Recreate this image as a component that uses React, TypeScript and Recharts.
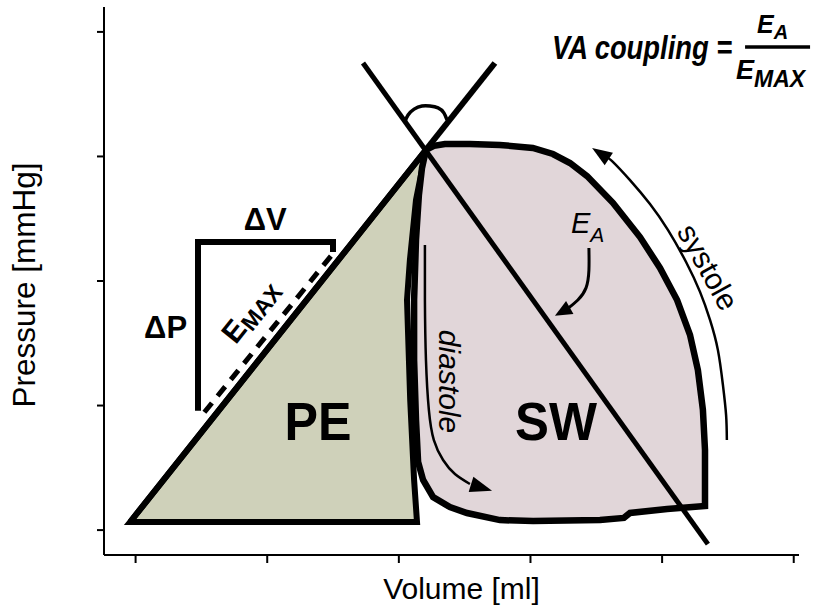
import React from "react";
import { ComposedChart, Curve, Scatter, XAxis, YAxis } from "recharts";

type Pt = { x: number; y: number };

// unlabelled axis ticks (volume in ml, pressure in mmHg)
const volumeTicks = [0, 50, 100, 150, 200, 250];
const pressureTicks = [0, 40, 80, 120, 160];

// end-systolic pressure-volume relation (E_MAX)
const espvrLine: Pt[] = [
  { x: -2.1, y: 2.6 },
  { x: 136.5, y: 150 },
];

// effective arterial elastance (E_A)
const eaLine: Pt[] = [
  { x: 86.4, y: 150 },
  { x: 217.4, y: -4.5 },
];

// potential energy area
const peArea: Pt[] = [
  { x: -2.1, y: 2.6 },
  { x: 110.3, y: 122.1 },
  { x: 106.5, y: 106.0 },
  { x: 104.2, y: 86.7 },
  { x: 103.1, y: 73.9 },
  { x: 104.3, y: 41.8 },
  { x: 105.8, y: 16.1 },
  { x: 106.9, y: 2.6 },
];

// pressure-volume loop (stroke work)
const pvLoop: Pt[] = [
  { x: 110.3, y: 122.1 },
  { x: 113.3, y: 123.4 },
  { x: 117.5, y: 124.0 },
  { x: 127.0, y: 124.0 },
  { x: 138.4, y: 123.7 },
  { x: 150.9, y: 122.7 },
  { x: 158.5, y: 120.8 },
  { x: 165.0, y: 117.9 },
  { x: 171.5, y: 113.7 },
  { x: 181.3, y: 105.1 },
  { x: 191.6, y: 94.1 },
  { x: 199.2, y: 84.2 },
  { x: 205.7, y: 73.9 },
  { x: 210.6, y: 62.7 },
  { x: 213.6, y: 51.4 },
  { x: 215.5, y: 38.6 },
  { x: 216.3, y: 25.7 },
  { x: 216.3, y: 7.7 },
  { x: 201.9, y: 6.8 },
  { x: 187.8, y: 5.5 },
  { x: 185.5, y: 3.9 },
  { x: 176.4, y: 3.2 },
  { x: 151.0, y: 2.9 },
  { x: 138.4, y: 3.2 },
  { x: 125.9, y: 5.5 },
  { x: 119.4, y: 7.4 },
  { x: 113.0, y: 10.6 },
  { x: 109.2, y: 16.1 },
  { x: 107.3, y: 21.9 },
  { x: 106.5, y: 35.4 },
  { x: 105.8, y: 54.6 },
  { x: 105.8, y: 73.9 },
  { x: 106.5, y: 93.2 },
  { x: 107.6, y: 107.6 },
  { x: 108.8, y: 116.3 },
];

// angle marker between the two lines
const angleArc: Pt[] = [
  { x: 102.3, y: 131.1 },
  { x: 103.5, y: 133.3 },
  { x: 105.8, y: 135.2 },
  { x: 108.8, y: 136.2 },
  { x: 111.8, y: 136.2 },
  { x: 114.9, y: 135.6 },
  { x: 117.1, y: 134.0 },
  { x: 118.3, y: 131.7 },
];

// ΔV / ΔP bracket and the dashed E_MAX slope
const slopeBracket: Pt[] = [
  { x: 75.0, y: 89.3 },
  { x: 75.0, y: 92.5 },
  { x: 23.7, y: 92.5 },
  { x: 23.7, y: 38.3 },
];
const emaxDashed: Pt[] = [
  { x: 74.2, y: 88.0 },
  { x: 25.6, y: 37.3 },
];

// thin arrows
const diastoleArrow: Pt[] = [
  { x: 109.9, y: 91.6 },
  { x: 109.9, y: 73.9 },
  { x: 110.3, y: 54.6 },
  { x: 111.4, y: 38.6 },
  { x: 113.3, y: 28.9 },
  { x: 116.8, y: 22.5 },
  { x: 121.3, y: 18.0 },
  { x: 127.0, y: 14.8 },
  { x: 135.4, y: 12.6 },
];
const systoleArrow: Pt[] = [
  { x: 224.6, y: 28.9 },
  { x: 224.3, y: 37.0 },
  { x: 223.1, y: 46.6 },
  { x: 221.2, y: 57.8 },
  { x: 218.2, y: 67.5 },
  { x: 214.4, y: 76.5 },
  { x: 209.1, y: 86.1 },
  { x: 202.2, y: 96.4 },
  { x: 195.4, y: 104.7 },
  { x: 187.8, y: 112.4 },
  { x: 181.0, y: 118.5 },
  { x: 173.4, y: 122.7 },
];
const eaArrow: Pt[] = [
  { x: 172.2, y: 90.6 },
  { x: 172.2, y: 83.5 },
  { x: 171.1, y: 77.8 },
  { x: 168.0, y: 73.9 },
  { x: 163.9, y: 71.0 },
  { x: 159.3, y: 68.8 },
];

// text anchors
const labelAnchors = [
  { id: "PE", x: 69.3, y: 28.9 },
  { id: "SW", x: 159.7, y: 28.9 },
  { id: "dV", x: 49.2, y: 96.4 },
  { id: "dP", x: 11.4, y: 61.7 },
  { id: "Emax", x: 38.0, y: 59.4 },
  { id: "Ea", x: 165.4, y: 95.4 },
  { id: "diastole", x: 115.2, y: 47.7 },
  { id: "systole", x: 214.0, y: 82.9 },
  { id: "formula", x: 158.2, y: 151.3 },
];

const SANS = '"Liberation Sans", Arial, Helvetica, sans-serif';
const PE_FILL = "#cfd1ba";
const LOOP_FILL = "#e1d6d9";

const noDot = () => <g />;
const noTickLabel = () => <g />;

const toPath = (pts: Pt[], closed = false) =>
  pts.map((p, i) => `${i ? "L" : "M"}${p.x.toFixed(1)},${p.y.toFixed(1)}`).join(" ") +
  (closed ? " Z" : "");

const closedShape = (fill: string, width: number) => (props: any) => (
  <path d={toPath(props.points, true)} fill={fill} stroke="#000" strokeWidth={width} />
);

const straight = (width: number, dash?: string) => (props: any) => (
  <path
    d={toPath(props.points)}
    fill="none"
    stroke="#000"
    strokeWidth={width}
    strokeDasharray={dash}
    strokeLinejoin="miter"
  />
);

const smooth = (width: number) => (props: any) => (
  <Curve points={props.points} type="natural" fill="none" stroke="#000" strokeWidth={width} />
);

const arrow = (width: number, headLen: number, headW: number) => (props: any) => {
  const pts: Pt[] = props.points;
  const n = pts.length;
  const tip = pts[n - 1];
  const prev = pts[n - 2];
  const dx = tip.x - prev.x;
  const dy = tip.y - prev.y;
  const len = Math.hypot(dx, dy);
  const ux = dx / len;
  const uy = dy / len;
  const bx = tip.x - ux * headLen;
  const by = tip.y - uy * headLen;
  const shaft = pts.slice(0, n - 1);
  if (len - headLen > 3) shaft.push({ x: bx + ux * 2, y: by + uy * 2 });
  const head = `M${tip.x},${tip.y} L${bx - (uy * headW) / 2},${by + (ux * headW) / 2} L${
    bx + (uy * headW) / 2
  },${by - (ux * headW) / 2} Z`;
  return (
    <g>
      <Curve points={shaft} type="natural" fill="none" stroke="#000" strokeWidth={width} />
      <path d={head} fill="#000" />
    </g>
  );
};

const renderLabel = (props: any) => {
  const { cx, cy, payload } = props;
  const base = { fontFamily: SANS, fill: "#000" };
  switch (payload.id) {
    case "PE":
    case "SW":
      return (
        <text
          x={cx}
          y={cy}
          {...base}
          fontSize={54}
          fontWeight="bold"
          textAnchor="middle"
          textLength={payload.id === "PE" ? 67 : 82}
          lengthAdjust="spacingAndGlyphs"
        >
          {payload.id}
        </text>
      );
    case "dV":
      return (
        <text x={cx} y={cy} {...base} fontSize={31} fontWeight="bold" textAnchor="middle">
          ΔV
        </text>
      );
    case "dP":
      return (
        <text x={cx} y={cy} {...base} fontSize={31} fontWeight="bold" textAnchor="middle">
          ΔP
        </text>
      );
    case "Emax":
      return (
        <text x={cx} y={cy} {...base} fontWeight="bold" transform={`rotate(-51.5 ${cx} ${cy})`}>
          <tspan fontSize={30}>E</tspan>
          <tspan fontSize={23} dy={5}>
            MAX
          </tspan>
        </text>
      );
    case "Ea":
      return (
        <text x={cx} y={cy} {...base} fontStyle="italic" fontSize={29}>
          E
          <tspan fontSize={21} dy={9}>
            A
          </tspan>
        </text>
      );
    case "diastole":
      return (
        <text
          x={cx}
          y={cy}
          {...base}
          fontStyle="italic"
          fontSize={30}
          textAnchor="middle"
          transform={`rotate(90 ${cx} ${cy})`}
        >
          diastole
        </text>
      );
    case "systole":
      return (
        <text
          x={cx}
          y={cy}
          {...base}
          fontSize={30}
          textAnchor="middle"
          transform={`rotate(61 ${cx} ${cy})`}
        >
          systole
        </text>
      );
    case "formula":
      return (
        <g {...base} fontWeight="bold" fontStyle="italic">
          <text x={0} y={0} fontSize={33} transform={`translate(${cx} ${cy}) scale(0.83 1)`}>
            VA coupling =
          </text>
          <text x={cx + 205} y={cy - 26} fontSize={25}>
            E
            <tspan fontSize={20} dy={6}>
              A
            </tspan>
          </text>
          <line x1={cx + 193} x2={cx + 258} y1={cy - 12} y2={cy - 12} stroke="#000" strokeWidth={3.5} />
          <text x={cx + 184} y={cy + 20} fontSize={27}>
            E
            <tspan fontSize={23} dy={8}>
              MAX
            </tspan>
          </text>
        </g>
      );
    default:
      return <g />;
  }
};

const volumeTitle = (props: any) => {
  const vb = props.viewBox || { x: 104, y: 555, width: 695, height: 55 };
  return (
    <text x={vb.x + vb.width / 2 + 10} y={vb.y + 44} fontFamily={SANS} fontSize={30} textAnchor="middle" fill="#000">
      Volume [ml]
    </text>
  );
};

const pressureTitle = (props: any) => {
  const vb = props.viewBox || { x: 0, y: 7, width: 104, height: 548 };
  const x = vb.x + vb.width - 69;
  const y = vb.y + vb.height / 2 + 4;
  return (
    <text
      x={x}
      y={y}
      fontFamily={SANS}
      fontSize={31.5}
      textAnchor="middle"
      fill="#000"
      transform={`rotate(-90 ${x} ${y})`}
    >
      Pressure [mmHg]
    </text>
  );
};

export default function App() {
  const axisStroke = { stroke: "#000", strokeWidth: 2 };
  return (
    <div style={{ position: "absolute", left: 0, top: 0, width: 819, height: 610, background: "#fff" }}>
      <ComposedChart width={819} height={610} margin={{ top: 7, right: 20, bottom: 0, left: 0 }}>
        <XAxis
          type="number"
          dataKey="x"
          domain={[-12, 252]}
          ticks={volumeTicks}
          tick={noTickLabel}
          tickSize={8}
          height={55}
          stroke="#000"
          axisLine={axisStroke}
          tickLine={axisStroke}
          label={volumeTitle}
        />
        <YAxis
          type="number"
          dataKey="y"
          domain={[-8, 168]}
          ticks={pressureTicks}
          tick={noTickLabel}
          tickSize={7}
          width={104}
          stroke="#000"
          axisLine={axisStroke}
          tickLine={axisStroke}
          label={pressureTitle}
        />
        <Scatter data={peArea} shape={noDot} line={closedShape(PE_FILL, 6)} isAnimationActive={false} />
        <Scatter data={pvLoop} shape={noDot} line={closedShape(LOOP_FILL, 6.5)} isAnimationActive={false} />
        <Scatter data={espvrLine} shape={noDot} line={straight(6)} isAnimationActive={false} />
        <Scatter data={eaLine} shape={noDot} line={straight(5)} isAnimationActive={false} />
        <Scatter data={angleArc} shape={noDot} line={smooth(3.5)} isAnimationActive={false} />
        <Scatter data={slopeBracket} shape={noDot} line={straight(6)} isAnimationActive={false} />
        <Scatter data={emaxDashed} shape={noDot} line={straight(5, "12 9")} isAnimationActive={false} />
        <Scatter data={diastoleArrow} shape={noDot} line={arrow(2.5, 22, 16)} isAnimationActive={false} />
        <Scatter data={systoleArrow} shape={noDot} line={arrow(2.5, 20, 15)} isAnimationActive={false} />
        <Scatter data={eaArrow} shape={noDot} line={arrow(3, 17, 15)} isAnimationActive={false} />
        <Scatter data={labelAnchors} shape={renderLabel} isAnimationActive={false} />
      </ComposedChart>
    </div>
  );
}
